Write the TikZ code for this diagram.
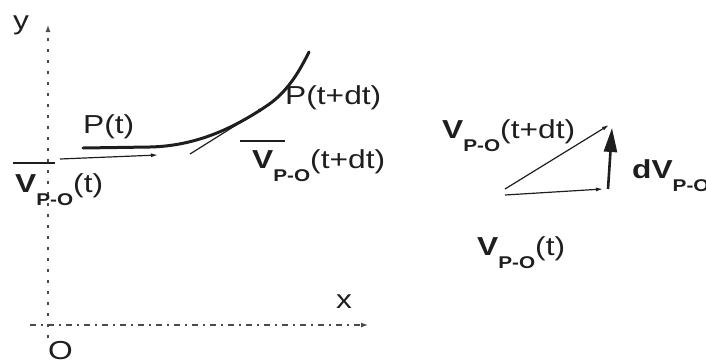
\documentclass[tikz,border=0pt]{standalone}
\usepackage{fontspec}
\setmainfont{Liberation Sans}[FakeStretch=1.22]
\usetikzlibrary{arrows.meta}
\definecolor{ink}{HTML}{1E1E1E}
\newcommand{\subpo}{\raisebox{-13pt}{\fontsize{17}{17}\selectfont\bfseries P-O}}
\newcommand{\vsub}[1]{\textbf{V}\subpo#1}
\tikzset{
  lbl/.style={anchor=base west, inner sep=0pt, text=ink, font=\fontsize{26}{30}\selectfont},
  axisy/.style={draw=ink!80, line width=1.2pt, dash pattern=on 3pt off 8pt, -{Latex[length=7pt,width=5pt]}},
  axisx/.style={draw=ink!80, line width=1.2pt, dash pattern=on 6pt off 5pt on 2pt off 5pt, -{Latex[length=7pt,width=5pt]}},
  thinvec/.style={draw=ink, line width=1.2pt, -{Latex[length=7pt,width=4pt]}},
  thickvec/.style={draw=ink, line width=2.6pt, -{Triangle[length=24pt,width=13pt]}},
  path/.style={draw=ink, line width=3pt, line cap=round},
  bar/.style={draw=ink, line width=1.2pt}
}
\begin{document}
\begin{tikzpicture}[x=1pt, y=-1pt]
\useasboundingbox (0,0) rectangle (706,362);
% axes
\coordinate (yb) at (48,338);
\coordinate (yt) at (48,25);
\coordinate (xl) at (30,325);
\coordinate (xr) at (368,325);
\draw[axisy] (yb) -- (yt);
\draw[axisx] (xl) -- (xr);
\node[lbl] (ylab) at (13,29) {y};
\node[lbl] (xlab) at (336,308) {x};
\node[lbl] (olab) at (48,359) {O};
% trajectory
\coordinate (p0) at (83,148);
\coordinate (p1) at (150,147);
\coordinate (pdt) at (265,107);
\coordinate (pend) at (309,52);
\draw[path] (p0) -- (p1) .. controls (195,146) and (232,129) .. (pdt) .. controls (287,93) and (299,72) .. (pend);
% tangent vectors on the path
\coordinate (ta) at (60,159);
\coordinate (tb) at (158,155);
\draw[thinvec] (ta) -- (tb);
\coordinate (tc) at (190,154);
\draw[thinvec] (tc) -- (pdt);
% labels on the left
\node[lbl] (pt) at (83,133) {P(t)};
\node[lbl] (ptdt) at (285,104) {P(t+dt)};
\node[lbl] (vl) at (15,192) {\vsub{(t)}};
\draw[bar] (13,163) -- (55,163);
\node[lbl] (vldt) at (252,168) {\vsub{(t+dt)}};
\draw[bar] (240,141) -- (285,141);
% vector triangle
\coordinate (o) at (505,189);
\coordinate (o2) at (505,195);
\coordinate (h) at (603,189);
\coordinate (d) at (609,125);
\coordinate (hs) at (608,189);
\coordinate (ve) at (612,128);
\draw[thinvec] (o) -- (d);
\draw[thinvec] (o2) -- (h);
\draw[thickvec] (hs) -- (ve);
\node[lbl] (vrdt) at (442,138) {\vsub{(t+dt)}};
\node[lbl] (dv) at (632,178) {\textbf{dV}\subpo};
\node[lbl] (vr) at (477,255) {\vsub{(t)}};
\end{tikzpicture}
\end{document}
